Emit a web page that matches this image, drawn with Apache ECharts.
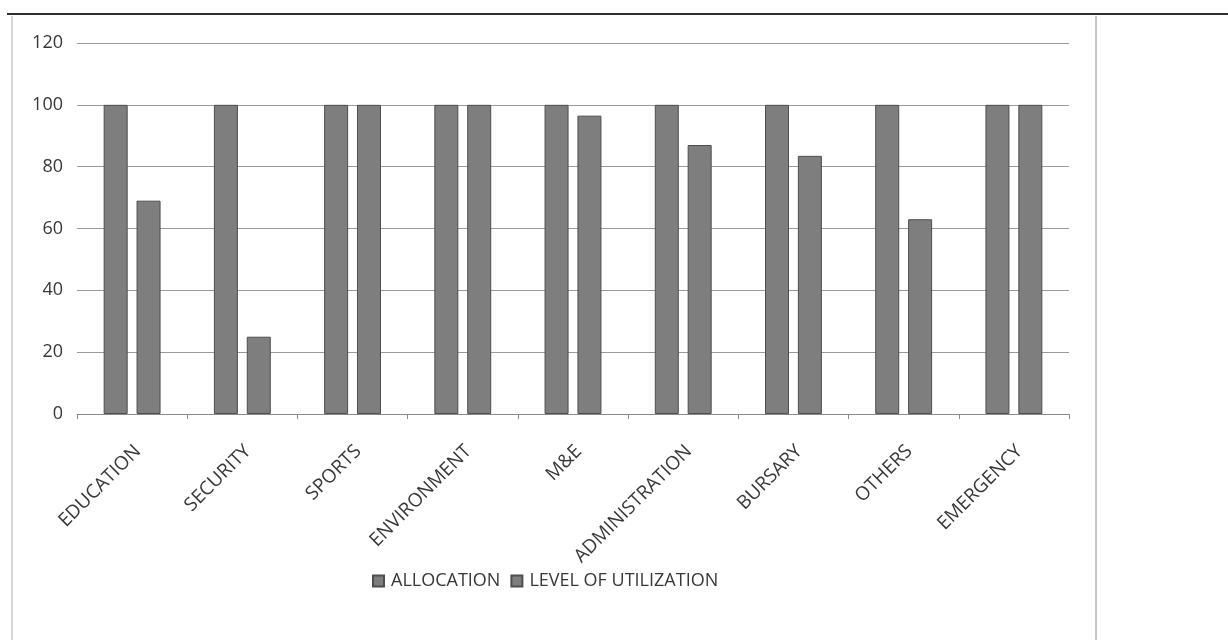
<!DOCTYPE html>
<html>
<head>
<meta charset="utf-8">
<script src="https://cdn.jsdelivr.net/npm/echarts@6/dist/echarts.min.js"></script>
<style>
html,body{margin:0;padding:0;background:#fff;}
#c{width:1228px;height:640px;}
</style>
</head>
<body>
<div id="c"></div>
<script>
const categories = ['EDUCATION','SECURITY','SPORTS','ENVIRONMENT','M&E','ADMINISTRATION','BURSARY','OTHERS','EMERGENCY'];
const allocation = [100,100,100,100,100,100,100,100,100];
const utilization = [69,25,100,100,96.5,87,83.5,63,100];
const yTicks = {min:0, max:120, interval:20};

const chart = echarts.init(document.getElementById('c'));
const font = "'Open Sans', sans-serif";
const textColor = '#383838';
const barStyle = {color:'#7e7e7e', borderColor:'#4e4e4e', borderWidth:1};
chart.setOption({
  animation:false,
  backgroundColor:'#fff',
  grid:{left:77, right:159, top:43, bottom:226},
  legend:{
    left:367, top:567,
    itemWidth:11, itemHeight:11, itemGap:10,
    icon:'rect',
    textStyle:{fontFamily:font, fontSize:18, color:textColor, padding:[0,0,0,2]},
    data:['ALLOCATION','LEVEL OF UTILIZATION']
  },
  xAxis:{
    type:'category',
    data:categories,
    axisLine:{lineStyle:{color:'#8a8a8a', width:1}},
    axisTick:{show:true, length:5, lineStyle:{color:'#8a8a8a'}},
    axisLabel:{rotate:45, margin:40, fontFamily:font, fontSize:19, color:textColor, interval:0, padding:[0,-8,0,0]}
  },
  yAxis:{
    type:'value',
    min:yTicks.min, max:yTicks.max, interval:yTicks.interval,
    axisLine:{show:false},
    axisTick:{show:false},
    axisLabel:{margin:14, fontFamily:font, fontSize:18, color:textColor},
    splitLine:{lineStyle:{color:'#9a9a9a', width:1}}
  },
  series:[
    {name:'ALLOCATION', type:'bar', data:allocation, barWidth:24, barGap:'37%', itemStyle:barStyle},
    {name:'LEVEL OF UTILIZATION', type:'bar', data:utilization, barWidth:24, barGap:'37%', itemStyle:barStyle}
  ],
  graphic:[
    {type:'line', shape:{x1:7,y1:14,x2:1228,y2:14}, style:{stroke:'#2e2e2e', lineWidth:2}},
    {type:'line', shape:{x1:12,y1:16,x2:12,y2:640}, style:{stroke:'#b0b0b0', lineWidth:1}},
    {type:'line', shape:{x1:1096,y1:16,x2:1096,y2:640}, style:{stroke:'#8c8c8c', lineWidth:1}}
  ]
});
</script>
</body>
</html>
